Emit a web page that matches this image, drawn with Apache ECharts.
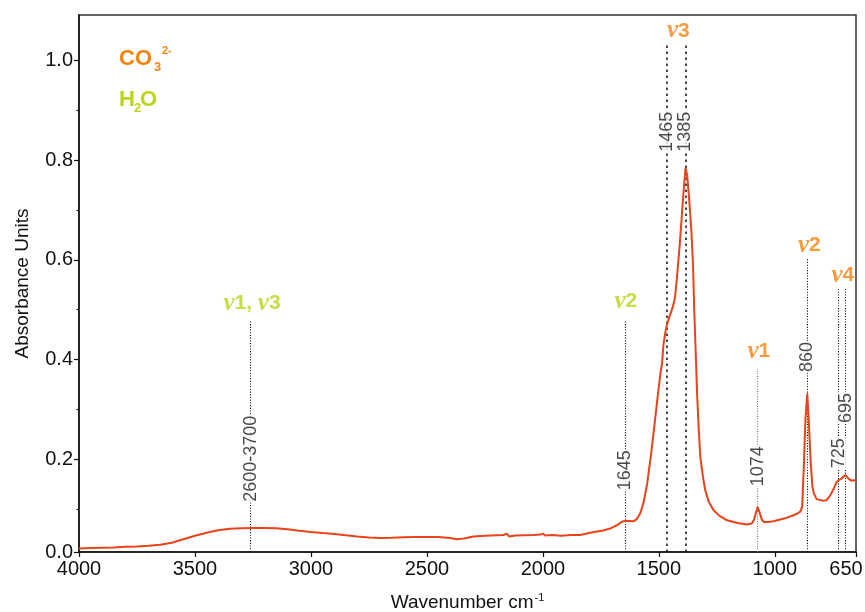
<!DOCTYPE html>
<html>
<head>
<meta charset="utf-8">
<title>FTIR spectrum</title>
<script src="https://cdn.jsdelivr.net/npm/echarts@6/dist/echarts.min.js"></script>
<style>
  html, body { margin: 0; padding: 0; background: #ffffff; }
  #chart { width: 865px; height: 612px; }
</style>
</head>
<body>
<div id="chart"></div>
<script>
// Infrared absorbance spectrum (wavenumber in cm-1, absorbance units)
const wavenumbers = [
  4000, 3950, 3900, 3850, 3800, 3750, 3700, 3650, 3600, 3550,
  3500, 3450, 3400, 3350, 3300, 3250, 3200, 3150, 3100, 3050,
  3000, 2950, 2900, 2850, 2800, 2750, 2700, 2650, 2600, 2550,
  2500, 2450, 2400, 2370, 2340, 2300, 2250, 2200, 2170, 2155,
  2145, 2120, 2080, 2040, 2010, 2000, 1990, 1960, 1920, 1880,
  1840, 1800, 1780, 1740, 1710, 1680, 1660, 1645, 1625, 1610,
  1595, 1580, 1565, 1550, 1535, 1523, 1507, 1493, 1486, 1480,
  1472, 1465, 1455, 1440, 1430, 1420, 1410, 1400, 1392, 1385,
  1378, 1370, 1360, 1353, 1347, 1340, 1335, 1328, 1321, 1310,
  1300, 1285, 1264, 1240, 1206, 1160, 1120, 1100, 1090, 1082,
  1074, 1066, 1056, 1048, 1030, 1006, 960, 919, 900, 890,
  882, 875, 868, 860, 853, 845, 838, 832, 820, 813,
  795, 777, 765, 756, 745, 734, 725, 715, 705, 695,
  688, 680, 670, 660, 650
];
const absorbance = [
  0.021, 0.022, 0.0225, 0.023, 0.0245, 0.025, 0.0265, 0.0285, 0.0325, 0.0395,
  0.0465, 0.0526, 0.0576, 0.0606, 0.0616, 0.0622, 0.0622, 0.0616, 0.0596, 0.0566,
  0.0542, 0.052, 0.050, 0.0476, 0.045, 0.043, 0.0421, 0.0425, 0.0435, 0.0441,
  0.0441, 0.0441, 0.042, 0.0395, 0.041, 0.045, 0.0465, 0.0475, 0.048, 0.0505,
  0.045, 0.047, 0.0478, 0.048, 0.049, 0.051, 0.047, 0.048, 0.0465, 0.048,
  0.0482, 0.052, 0.0542, 0.057, 0.061, 0.068, 0.0745, 0.0765, 0.0762, 0.0756,
  0.080, 0.0917, 0.115, 0.152, 0.205, 0.252, 0.318, 0.373, 0.393, 0.430,
  0.455, 0.470, 0.485, 0.505, 0.525, 0.575, 0.630, 0.695, 0.745, 0.784,
  0.770, 0.726, 0.660, 0.593, 0.493, 0.400, 0.330, 0.260, 0.204, 0.165,
  0.138, 0.115, 0.0977, 0.087, 0.0776, 0.072, 0.069, 0.071, 0.078, 0.092,
  0.104, 0.094, 0.079, 0.0742, 0.074, 0.0756, 0.081, 0.0877, 0.092, 0.095,
  0.105, 0.185, 0.280, 0.332, 0.270, 0.192, 0.145, 0.132, 0.120, 0.118,
  0.117, 0.118, 0.125, 0.132, 0.142, 0.154, 0.158, 0.160, 0.165, 0.168,
  0.165, 0.160, 0.157, 0.158, 0.157
];

// Axis ticks
const xTicks = [4000, 3500, 3000, 2500, 2000, 1500, 1000, 650];
const yFloor = 0.014;
const yCeil = 1.091;
const yTicks = [yFloor, 0.2, 0.4, 0.6, 0.8, 1.0];
const yTickLabels = ['0.0', '0.2', '0.4', '0.6', '0.8', '1.0'];
const yMinorTicks = [0.1, 0.3, 0.5, 0.7, 0.9];

// Band positions: wavenumber, top of the guide line, label text, label height
const bandWavenumbers = [3260, 1645, 1465, 1385, 1074, 860, 725, 695];
const bandLineTops   = [0.479, 0.479, 1.037, 1.037, 0.381, 0.603, 0.541, 0.541];
const bandTexts      = ['2600-3700', '1645', '1465', '1385', '1074', '860', '725', '695'];
const bandTextHeights = [0.201, 0.178, 0.857, 0.857, 0.186, 0.405, 0.212, 0.303];
const bandLineKinds  = ['fine', 'fine', 'dash', 'dash', 'grey', 'fine', 'fine', 'fine'];

// Vibration mode names: wavenumber, height, mode numbers, species
const modeWavenumbers = [3254, 1642, 1416, 1069, 851, 707];
const modeHeights     = [0.513, 0.517, 1.059, 0.416, 0.629, 0.569];
const modeNumbers     = [['1', '3'], ['2'], ['3'], ['1'], ['2'], ['4']];
const modeSpecies     = ['water', 'water', 'carbonate', 'carbonate', 'carbonate', 'carbonate'];

const ORANGE = '#f5820f';
const GREEN = '#bcd419';
const SPECTRUM = '#ea4219';
const FONT = '"Liberation Sans", Arial, sans-serif';

const lineStyles = {
  fine: { color: '#111', width: 1.1, type: [1.1, 1.6] },
  grey: { color: '#777', width: 1.1, type: [1.1, 1.4] },
  dash: { color: '#111', width: 1.5, type: [2.5, 3.5] }
};

const spectrum = wavenumbers.map((w, i) => [w, absorbance[i]]);

const guideLines = bandWavenumbers.map((w, i) => [
  { coord: [w, yFloor], lineStyle: lineStyles[bandLineKinds[i]] },
  { coord: [w, bandLineTops[i]] }
]);

const bandLabelData = bandWavenumbers.map((w, i) => [w, bandTextHeights[i], bandTexts[i]]);

const modeLabelData = modeWavenumbers.map((w, i) => ({
  value: [w, modeHeights[i]],
  text: modeNumbers[i].map(n => '{g|ν}{n|' + n + '}').join('{n|, }'),
  species: modeSpecies[i]
}));

function modeRich(color) {
  return {
    g: { fontFamily: '"Liberation Serif", "Times New Roman", serif', fontStyle: 'italic',
         fontWeight: 'bold', fontSize: 25, color: color },
    n: { fontFamily: FONT, fontWeight: 'bold', fontSize: 21, color: color }
  };
}

const chart = echarts.init(document.getElementById('chart'), null, { renderer: 'canvas' });

chart.setOption({
  animation: false,
  backgroundColor: '#ffffff',
  textStyle: { fontFamily: FONT },
  grid: {
    left: 79, right: 9, top: 15, bottom: 60,
    show: true, borderColor: '#333', borderWidth: 1.5,
    outerBoundsMode: 'none'
  },
  xAxis: {
    type: 'value',
    inverse: true,
    min: 650,
    max: 4000,
    name: '{a|Wavenumber cm}{s|-1}',
    nameLocation: 'middle',
    nameGap: 40,
    nameTextStyle: {
      rich: {
        a: { fontFamily: FONT, fontSize: 19, color: '#111', lineHeight: 22 },
        s: { fontFamily: FONT, fontSize: 11, color: '#111', lineHeight: 22, verticalAlign: 'top', padding: [0, 0, 10, 1] }
      }
    },
    axisLine: { show: true, onZero: false, lineStyle: { color: '#111', width: 1.5 } },
    axisTick: { show: true, inside: false, length: 5, customValues: xTicks, lineStyle: { color: '#111', width: 1.2 } },
    axisLabel: {
      customValues: xTicks,
      margin: 7,
      fontSize: 20,
      color: '#111',
      fontFamily: FONT,
      formatter: v => v === 650 ? '{r|650}' : String(v),
      rich: { r: { fontSize: 20, color: '#111', fontFamily: FONT, padding: [0, 20, 0, 0] } }
    },
    splitLine: { show: false }
  },
  yAxis: [
    {
      type: 'value',
      min: yFloor,
      max: yCeil,
      position: 'left',
      name: 'Absorbance Units',
      nameLocation: 'middle',
      nameRotate: 90,
      nameGap: 47,
      nameTextStyle: { fontFamily: FONT, fontSize: 19, color: '#111' },
      axisLine: { show: true, onZero: false, lineStyle: { color: '#111', width: 1.5 } },
      axisTick: { show: true, inside: false, length: 5, customValues: yTicks, lineStyle: { color: '#111', width: 1.2 } },
      axisLabel: {
        customValues: yTicks,
        margin: 6,
        fontSize: 20,
        color: '#111',
        fontFamily: FONT,
        formatter: v => yTickLabels[yTicks.indexOf(v)] ?? v.toFixed(1)
      },
      splitLine: { show: false }
    },
    {
      type: 'value',
      min: yFloor,
      max: yCeil,
      position: 'left',
      offset: 0,
      axisLine: { show: false },
      axisTick: { show: true, inside: false, length: 2.5, customValues: yMinorTicks, lineStyle: { color: '#111', width: 1.2 } },
      axisLabel: { show: false },
      splitLine: { show: false }
    }
  ],
  graphic: [
    { type: 'text', style: { text: 'CO', x: 119, y: 59, fill: ORANGE, font: 'bold 22px ' + FONT, textVerticalAlign: 'middle' } },
    { type: 'text', style: { text: '3', x: 154, y: 67, fill: ORANGE, font: 'bold 13px ' + FONT, textVerticalAlign: 'middle' } },
    { type: 'text', style: { text: '2-', x: 162, y: 51, fill: ORANGE, font: 'bold 11px ' + FONT, textVerticalAlign: 'middle' } },
    { type: 'text', style: { text: 'H', x: 119, y: 100, fill: GREEN, font: 'bold 22px ' + FONT, textVerticalAlign: 'middle' } },
    { type: 'text', style: { text: '2', x: 134, y: 108, fill: GREEN, font: 'bold 13px ' + FONT, textVerticalAlign: 'middle' } },
    { type: 'text', style: { text: 'O', x: 140, y: 100, fill: GREEN, font: 'bold 22px ' + FONT, textVerticalAlign: 'middle' } }
  ],
  series: [
    {
      type: 'line',
      name: 'Absorbance',
      data: spectrum,
      showSymbol: false,
      symbol: 'none',
      smooth: false,
      silent: true,
      z: 3,
      lineStyle: { color: SPECTRUM, width: 2 },
      markLine: {
        silent: true,
        symbol: ['none', 'none'],
        label: { show: false },
        emphasis: { disabled: true },
        data: guideLines,
        z: 2
      }
    },
    {
      type: 'scatter',
      name: 'Band positions',
      data: bandLabelData,
      symbolSize: 0,
      silent: true,
      z: 4,
      label: {
        show: true,
        position: 'inside',
        rotate: 90,
        formatter: p => p.data[2],
        fontFamily: FONT,
        fontSize: 18,
        color: '#1a1a1a',
        backgroundColor: '#ffffff',
        padding: [0, 1]
      }
    },
    {
      type: 'scatter',
      name: 'Modes',
      data: modeLabelData.map(d => ({
        value: d.value,
        label: {
          show: true,
          position: 'inside',
          formatter: d.text,
          rich: modeRich(d.species === 'water' ? GREEN : ORANGE)
        }
      })),
      symbolSize: 0,
      silent: true,
      z: 4
    }
  ]
});
</script>
</body>
</html>
